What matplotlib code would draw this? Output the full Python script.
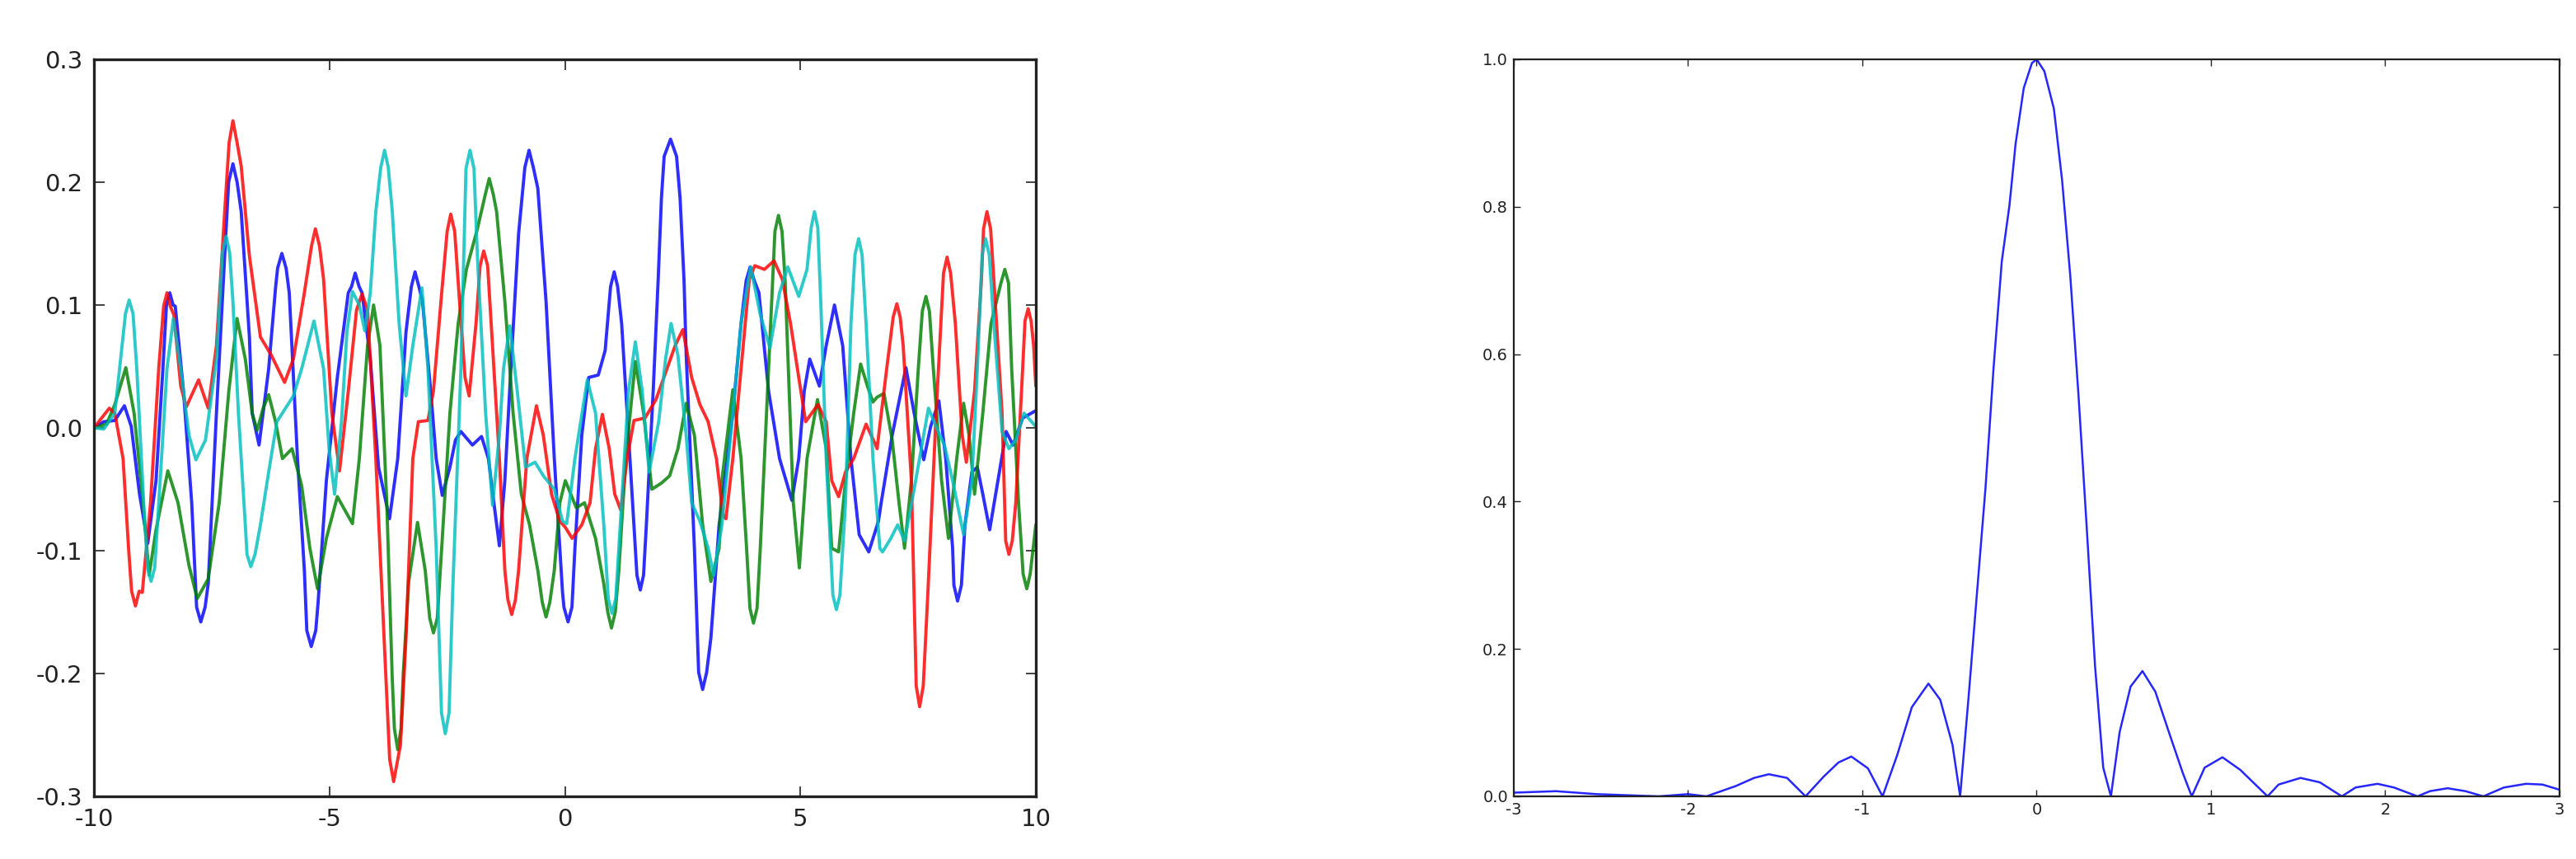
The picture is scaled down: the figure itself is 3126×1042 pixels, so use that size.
import matplotlib
matplotlib.use("Agg")
import matplotlib.pyplot as plt

# ---------------- Left panel: four noisy signals ----------------
blue_x = [-10.0, -9.79, -9.557, -9.353, -9.207, -9.032, -8.857, -8.682, -8.536, -8.39, -8.273, -8.099,
          -7.924, -7.731, -7.574, -7.399, -7.224, -7.049, -6.873, -6.699, -6.64, -6.494, -6.29, -6.144,
          -6.01, -5.853, -5.678, -5.532, -5.386, -5.24, -5.065, -4.832, -4.599, -4.453, -4.307, -4.132,
          -3.957, -3.724, -3.549, -3.374, -3.182, -3.024, -2.849, -2.733, -2.604, -2.441, -2.324, -2.208,
          -1.963, -1.77, -1.624, -1.508, -1.391, -1.275, -1.158, -0.983, -0.761, -0.575, -0.4, -0.225,
          -0.05, 0.067, 0.213, 0.359, 0.505, 0.709, 0.855, 1.047, 1.205, 1.351, 1.496, 1.601, 1.73, 1.875,
          1.98, 2.05, 2.108, 2.243, 2.371, 2.446, 2.53, 2.575, 2.75, 2.925, 3.1, 3.275, 3.45, 3.566, 3.741,
          3.934, 4.12, 4.325, 4.558,
          4.82, 4.966, 5.083, 5.199, 5.404, 5.549, 5.724, 5.899, 6.074, 6.249, 6.453, 6.658, 6.716, 6.95,
          7.241, 7.416, 7.62, 7.766, 7.941, 8.087, 8.233, 8.338, 8.495, 8.641, 8.758, 8.874, 9.02, 9.195,
          9.37, 9.516, 9.72, 10.0]
blue_y = [0.0, 0.005, 0.006, 0.018, 0.001, -0.054, -0.094, -0.043, 0.048, 0.11, 0.099, 0.03,
          -0.061, -0.158, -0.127, 0.012, 0.14, 0.215, 0.176, 0.074, 0.012, -0.014, 0.048, 0.114,
          0.142, 0.11, -0.025, -0.116, -0.178, -0.142, -0.043, 0.041, 0.11, 0.126, 0.11, 0.056,
          -0.032, -0.074, -0.025, 0.078, 0.127, 0.103, 0.03, -0.025, -0.055, -0.032, -0.01, -0.003,
          -0.014, -0.007, -0.025, -0.061, -0.096, -0.043, 0.041, 0.158, 0.226, 0.195, 0.103, -0.025,
          -0.134, -0.158, -0.098, -0.006, 0.041, 0.043, 0.063, 0.127, 0.085, -0.006, -0.098, -0.132, -0.079, 0.03,
          0.12, 0.187, 0.221, 0.235, 0.221, 0.187, 0.12, 0.06, -0.098, -0.213, -0.171, -0.079, -0.025, 0.012, 0.085,
          0.131, 0.11, 0.03, -0.025,
          -0.059, -0.025, 0.03, 0.056, 0.034, 0.067, 0.1, 0.067, -0.025, -0.087, -0.101, -0.076, -0.061, -0.006,
          0.049, 0.012, -0.026, 0.001, 0.022, -0.025, -0.098, -0.141, -0.079, -0.036, -0.032, -0.054, -0.083, -0.043,
          -0.003, -0.014, 0.008, 0.014]
# extra points read around the rounded extrema
blue_extra_x = [-8.46, -8.32, -7.82, -7.64, -7.14, -6.96, -6.10, -5.92, -5.48, -5.29, -4.53, -4.37,
                -3.26, -3.10, -0.85, -0.67, -0.02, 0.15, 0.97, 1.12, 1.53, 1.67, 2.84, 3.01,
                3.85, 4.02, 8.26, 8.42]
blue_extra_y = [0.100, 0.100, -0.146, -0.146, 0.200, 0.200, 0.130, 0.130, -0.165, -0.165, 0.115, 0.115,
                0.115, 0.115, 0.212, 0.212, -0.146, -0.146, 0.115, 0.115, -0.120, -0.120, -0.199, -0.199,
                0.120, 0.120, -0.128, -0.128]

green_x = [-10.0, -9.732, -9.557, -9.323, -9.148, -8.973, -8.828, -8.682, -8.431, -8.215, -7.982, -7.807,
           -7.574, -7.34, -7.136, -6.961, -6.786, -6.64, -6.535, -6.407, -6.29, -6.144, -5.998, -5.794,
           -5.59, -5.415, -5.252, -5.065, -4.832, -4.657, -4.511, -4.365, -4.19, -4.062, -3.928, -3.782,
           -3.665, -3.549, -3.432, -3.316, -3.129, -2.966, -2.791, -2.616, -2.441, -2.266, -2.091, -1.858,
           -1.607, -1.45, -1.275, -1.1, -0.925, -0.75, -0.575, -0.4, -0.225, -0.108, 0.009, 0.242, 0.417,
           0.651, 0.826, 0.989, 1.146, 1.292, 1.496, 1.671, 1.846, 2.05, 2.225, 2.4, 2.575, 2.75, 2.925,
           3.1, 3.275, 3.333, 3.566, 3.741, 3.858, 4.004, 4.149, 4.325, 4.535, 4.675, 4.85, 4.978, 5.141,
           5.363, 5.549, 5.666, 5.812, 5.958, 6.133, 6.279, 6.424, 6.541, 6.629, 6.775, 6.95, 7.095, 7.212,
           7.358, 7.504, 7.667, 7.824, 7.999, 8.145, 8.32, 8.466, 8.583, 8.699, 8.874, 9.049, 9.341, 9.487,
           9.633, 9.808, 10.0]
green_y = [0.0, 0.003, 0.019, 0.049, 0.012, -0.054, -0.12, -0.083, -0.035, -0.061, -0.112, -0.139,
           -0.123, -0.061, 0.03, 0.089, 0.056, 0.012, -0.002, 0.016, 0.027, 0.005, -0.025, -0.017,
           -0.047, -0.098, -0.131, -0.09, -0.056, -0.068, -0.078, -0.025, 0.067, 0.1, 0.067, -0.061,
           -0.205, -0.262, -0.2, -0.125, -0.077, -0.116, -0.167, -0.098, 0.012, 0.085, 0.129, 0.162,
           0.203, 0.176, 0.103, 0.012, -0.054, -0.079, -0.116, -0.154, -0.116, -0.061, -0.043, -0.065, -0.061,
           -0.09, -0.127, -0.163, -0.116, -0.025, 0.054, 0.012, -0.05, -0.045, -0.039, -0.017, 0.02, -0.006, -0.079,
           -0.125, -0.098, -0.043, 0.031, -0.025, -0.098, -0.159, -0.098, 0.048, 0.173, 0.121, -0.061, -0.114, -0.025,
           0.023, -0.017, -0.098, -0.101, -0.043, 0.012, 0.052, 0.034, 0.021, 0.025, 0.028, -0.01, -0.061, -0.098,
           -0.043, 0.048, 0.107, 0.048, -0.043, -0.09, -0.025, 0.02, -0.006, -0.054, 0.012, 0.085, 0.129, 0.048,
           -0.061, -0.131, -0.079]
green_extra_x = [-3.62, -3.48, -2.87, -2.71, -1.69, -1.52, -0.48, -0.32, 0.91, 1.07, 3.93, 4.08,
                 4.46, 4.61, 7.59, 7.74, 9.26, 9.42, 9.73, 9.88]
green_extra_y = [-0.245, -0.245, -0.155, -0.155, 0.190, 0.190, -0.142, -0.142, -0.150, -0.150, -0.147, -0.147,
                 0.160, 0.160, 0.095, 0.095, 0.118, 0.118, -0.119, -0.119]

red_x = [-10.0, -9.673, -9.557, -9.382, -9.265, -9.119, -8.973, -8.798, -8.623, -8.449, -8.303, -8.157,
         -8.04, -7.778, -7.573, -7.399, -7.224, -7.049, -6.873, -6.699, -6.465, -6.232, -5.952, -5.765,
         -5.532, -5.298, -5.124, -4.948, -4.785, -4.599, -4.424, -4.307, -4.19, -4.015, -3.84, -3.636,
         -3.491, -3.374, -3.229, -3.112, -2.908, -2.791, -2.616, -2.424, -2.237, -2.12, -2.033, -1.887,
         -1.724, -1.566, -1.391, -1.275, -1.129, -0.983, -0.808, -0.604, -0.458, -0.283, -0.108, 0.009,
         0.155, 0.359, 0.534, 0.651, 0.796, 0.942, 1.059, 1.187, 1.321, 1.467, 1.701, 1.934, 2.167, 2.342,
         2.505, 2.692, 2.867, 3.042, 3.217, 3.363, 3.42, 3.566, 3.741, 3.916, 4.033, 4.237, 4.441, 4.616,
         4.791, 4.966, 5.112, 5.374, 5.549, 5.666, 5.812, 5.958, 6.133, 6.395, 6.599, 6.629, 6.833, 7.049,
         7.183, 7.358, 7.533, 7.708, 7.883, 8.116, 8.291, 8.437, 8.524, 8.699, 8.845, 8.962, 9.108, 9.283,
         9.428, 9.574, 9.72, 9.837, 9.953, 10.0]
red_y = [0.0, 0.016, 0.012, -0.025, -0.098, -0.145, -0.134, -0.061, 0.049, 0.11, 0.092, 0.034,
         0.017, 0.039, 0.016, 0.067, 0.176, 0.25, 0.213, 0.14, 0.074, 0.059, 0.037, 0.056,
         0.11, 0.162, 0.121, 0.012, -0.035, 0.03, 0.096, 0.109, 0.096, -0.025, -0.171, -0.288,
         -0.258, -0.171, -0.025, 0.005, 0.006, 0.03, 0.11, 0.174, 0.103, 0.041, 0.026, 0.085,
         0.144, 0.085, -0.025, -0.116, -0.152, -0.116, -0.025, 0.018, -0.006, -0.054, -0.076, -0.081,
         -0.09, -0.079, -0.061, -0.017, 0.011, -0.017, -0.054, -0.067, -0.025, 0.006, 0.008, 0.023, 0.048, 0.067,
         0.08, 0.041, 0.019, 0.005, -0.025, -0.072, -0.074, -0.025, 0.048, 0.121, 0.132, 0.129, 0.136, 0.121,
         0.085, 0.041, 0.005, 0.019, 0.005, -0.043, -0.056, -0.036, -0.025, 0.003, -0.014, -0.017, 0.048, 0.101,
         0.067, -0.043, -0.227, -0.134, 0.012, 0.139, 0.085, -0.006, -0.028, 0.03, 0.121, 0.176, 0.121, 0.012,
         -0.103, -0.061, 0.048, 0.097, 0.067, 0.034]
red_extra_x = [-9.20, -9.04, -8.52, -8.38, -7.13, -6.96, -5.38, -5.21, -3.72, -3.55, -2.50, -2.34,
               -1.80, -1.64, -1.21, -1.05, 6.97, 7.12, 7.46, 7.61, 8.04, 8.19, 8.89, 9.04,
               9.36, 9.50, 9.77, 9.90]
red_extra_y = [-0.133, -0.133, 0.099, 0.099, 0.232, 0.232, 0.148, 0.148, -0.270, -0.270, 0.160, 0.160,
               0.132, 0.132, -0.140, -0.140, 0.090, 0.090, -0.210, -0.210, 0.126, 0.126, 0.162, 0.162,
               -0.092, -0.092, 0.087, 0.087]

cyan_x = [-10.0, -9.79, -9.557, -9.253, -9.09, -8.944, -8.787, -8.623, -8.449, -8.314, -8.157, -7.982,
          -7.836, -7.632, -7.399, -7.194, -7.049, -6.932, -6.786, -6.669, -6.465, -6.29, -6.115, -5.765,
          -5.59, -5.328, -5.124, -5.007, -4.89, -4.744, -4.628, -4.511, -4.365, -4.249, -4.132, -4.015,
          -3.829, -3.665, -3.52, -3.374, -3.229, -3.036, -2.908, -2.733, -2.54, -2.383, -2.208, -2.015,
          -1.858, -1.683, -1.537, -1.391, -1.304, -1.17, -1.012, -0.837, -0.633, -0.458, -0.225, -0.05,
          0.038, 0.213, 0.476, 0.651, 0.826, 1.001, 1.176, 1.351, 1.496, 1.642, 1.788, 1.992, 2.138, 2.255,
          2.4, 2.575, 2.692, 2.867, 3.042, 3.159, 3.334, 3.566, 3.741, 3.945, 4.15, 4.354, 4.558, 4.733,
          4.966, 5.141, 5.299, 5.433, 5.549, 5.765, 5.958, 6.074, 6.238, 6.395, 6.541, 6.687, 6.745, 6.92,
          7.066, 7.212, 7.416, 7.72, 7.883, 8.058, 8.233, 8.466, 8.641, 8.758, 8.933, 9.108, 9.283, 9.428,
          9.574, 9.749, 10.0]
cyan_y = [0.0, -0.001, 0.012, 0.104, 0.048, -0.061, -0.125, -0.061, 0.048, 0.089, 0.048, -0.006,
          -0.026, -0.01, 0.056, 0.156, 0.103, 0.012, -0.079, -0.113, -0.079, -0.036, 0.005, 0.026,
          0.048, 0.087, 0.048, -0.017, -0.054, 0.005, 0.078, 0.111, 0.1, 0.079, 0.11, 0.176,
          0.226, 0.176, 0.085, 0.026, 0.067, 0.114, 0.048, -0.098, -0.249, -0.134, 0.048, 0.226,
          0.14, 0.012, -0.063, -0.006, 0.048, 0.083, 0.03, -0.032, -0.028, -0.039, -0.05, -0.076,
          -0.078, -0.025, 0.039, 0.012, -0.079, -0.151, -0.079, 0.03, 0.07, 0.03, -0.036, 0.005, 0.056, 0.085,
          0.059, -0.006, -0.061, -0.076, -0.098, -0.12, -0.079, 0.012, 0.085, 0.131, 0.092, 0.065, 0.11, 0.131,
          0.107, 0.129, 0.176, 0.103, -0.025, -0.148, -0.061, 0.085, 0.154, 0.085, -0.025, -0.098, -0.101, -0.09,
          -0.079, -0.092, -0.05, 0.016, 0.001, -0.014, -0.043, -0.087, -0.043, 0.048, 0.154, 0.085, -0.003, -0.017,
          -0.01, 0.012, 0.001]
cyan_extra_x = [-9.33, -9.17, -8.86, -8.71, -7.27, -7.12, -6.75, -6.58, -3.91, -3.75, -2.62, -2.46,
                -2.10, -1.93, 0.92, 1.08, 5.23, 5.37, 5.69, 5.84, 6.16, 6.31, 8.86, 9.01]
cyan_extra_y = [0.093, 0.093, -0.114, -0.114, 0.143, 0.143, -0.103, -0.103, 0.212, 0.212, -0.232, -0.232,
                0.211, 0.211, -0.139, -0.139, 0.163, 0.163, -0.136, -0.136, 0.141, 0.141, 0.141, 0.141]

left_xticks = [-10, -5, 0, 5, 10]
left_xlabels = ["-10", "-5", "0", "5", "10"]
left_yticks = [-0.3, -0.2, -0.1, 0.0, 0.1, 0.2, 0.3]
left_ylabels = ["-0.3", "-0.2", "-0.1", "0.0", "0.1", "0.2", "0.3"]

# ---------------- Right panel: spectrum magnitude ----------------
spec_x = [-3.0, -2.758, -2.526, -2.168, -2.0, -1.895, -1.726, -1.621, -1.537, -1.432, -1.326,
          -1.221, -1.137, -1.063, -0.968, -0.884, -0.8, -0.716, -0.621, -0.553, -0.483, -0.439,
          -0.388, -0.341, -0.294, -0.247, -0.2, -0.156, -0.121, -0.074, -0.027, 0.0, 0.044, 0.099,
          0.146, 0.193, 0.241, 0.288, 0.335, 0.382, 0.426, 0.476, 0.539, 0.607, 0.681, 0.759, 0.838,
          0.89, 0.964, 1.066, 1.168, 1.325, 1.388, 1.514, 1.625, 1.751, 1.83, 1.956, 2.05, 2.185,
          2.256, 2.358, 2.461, 2.563, 2.681, 2.808, 2.902, 3.0]
spec_y = [0.005, 0.007, 0.003, 0.0, 0.003, 0.0, 0.014, 0.025, 0.030, 0.025, 0.0,
          0.027, 0.046, 0.054, 0.038, 0.0, 0.056, 0.121, 0.153, 0.131, 0.07, 0.0,
          0.142, 0.28, 0.417, 0.582, 0.726, 0.802, 0.885, 0.961, 0.995, 1.0, 0.984, 0.933,
          0.836, 0.706, 0.541, 0.362, 0.177, 0.039, 0.0, 0.087, 0.149, 0.170, 0.142, 0.087, 0.032,
          0.0, 0.039, 0.053, 0.036, 0.0, 0.016, 0.025, 0.019, 0.0, 0.012, 0.017, 0.012, 0.0,
          0.007, 0.011, 0.007, 0.0, 0.012, 0.017, 0.016, 0.009]

right_xticks = [-3, -2, -1, 0, 1, 2, 3]
right_xlabels = ["-3", "-2", "-1", "0", "1", "2", "3"]
right_yticks = [0.0, 0.2, 0.4, 0.6, 0.8, 1.0]
right_ylabels = ["0.0", "0.2", "0.4", "0.6", "0.8", "1.0"]


def merged(xs, ys, ex, ey):
    pts = sorted(list(zip(xs, ys)) + list(zip(ex, ey)))
    return [p[0] for p in pts], [p[1] for p in pts]


plt.rcParams['font.family'] = ['DejaVu Sans']

fig = plt.figure(figsize=(31.26, 10.42), dpi=100)
fig.patch.set_facecolor('white')

ax1 = fig.add_axes([0.03647, 0.07294, 0.36564, 0.85797])
lw = 2.8
series = [
    (blue_x, blue_y, blue_extra_x, blue_extra_y, '#0000ff'),
    (green_x, green_y, green_extra_x, green_extra_y, '#007f00'),
    (red_x, red_y, red_extra_x, red_extra_y, '#ff0000'),
    (cyan_x, cyan_y, cyan_extra_x, cyan_extra_y, '#00bfbf'),
]
for xs, ys, ex, ey, col in series:
    mx, my = merged(xs, ys, ex, ey)
    ax1.plot(mx, my, color=col, lw=lw, alpha=0.82,
             solid_joinstyle='round', solid_capstyle='round')
ax1.set_xlim(-10, 10)
ax1.set_ylim(-0.3, 0.3)
ax1.set_xticks(left_xticks)
ax1.set_xticklabels(left_xlabels)
ax1.set_yticks(left_yticks)
ax1.set_yticklabels(left_ylabels)
ax1.tick_params(direction='in', length=9, width=1.2, top=True, right=True,
                labelsize=21, colors='#222222', pad=10)
for s in ax1.spines.values():
    s.set_linewidth(2.4)
    s.set_color('#222222')

ax2 = fig.add_axes([0.58765, 0.07294, 0.40595, 0.85797])
ax2.plot(spec_x, spec_y, color='#0000ff', lw=1.8, alpha=0.85, solid_joinstyle='round')
ax2.set_xlim(-3, 3)
ax2.set_ylim(0, 1)
ax2.set_xticks(right_xticks)
ax2.set_xticklabels(right_xlabels)
ax2.set_yticks(right_yticks)
ax2.set_yticklabels(right_ylabels)
ax2.tick_params(direction='in', length=6, width=1.0, top=True, right=True,
                labelsize=14, colors='#222222', pad=5)
for s in ax2.spines.values():
    s.set_linewidth(1.6)
    s.set_color('#222222')

fig.savefig('out.png', dpi=100, facecolor='white')
